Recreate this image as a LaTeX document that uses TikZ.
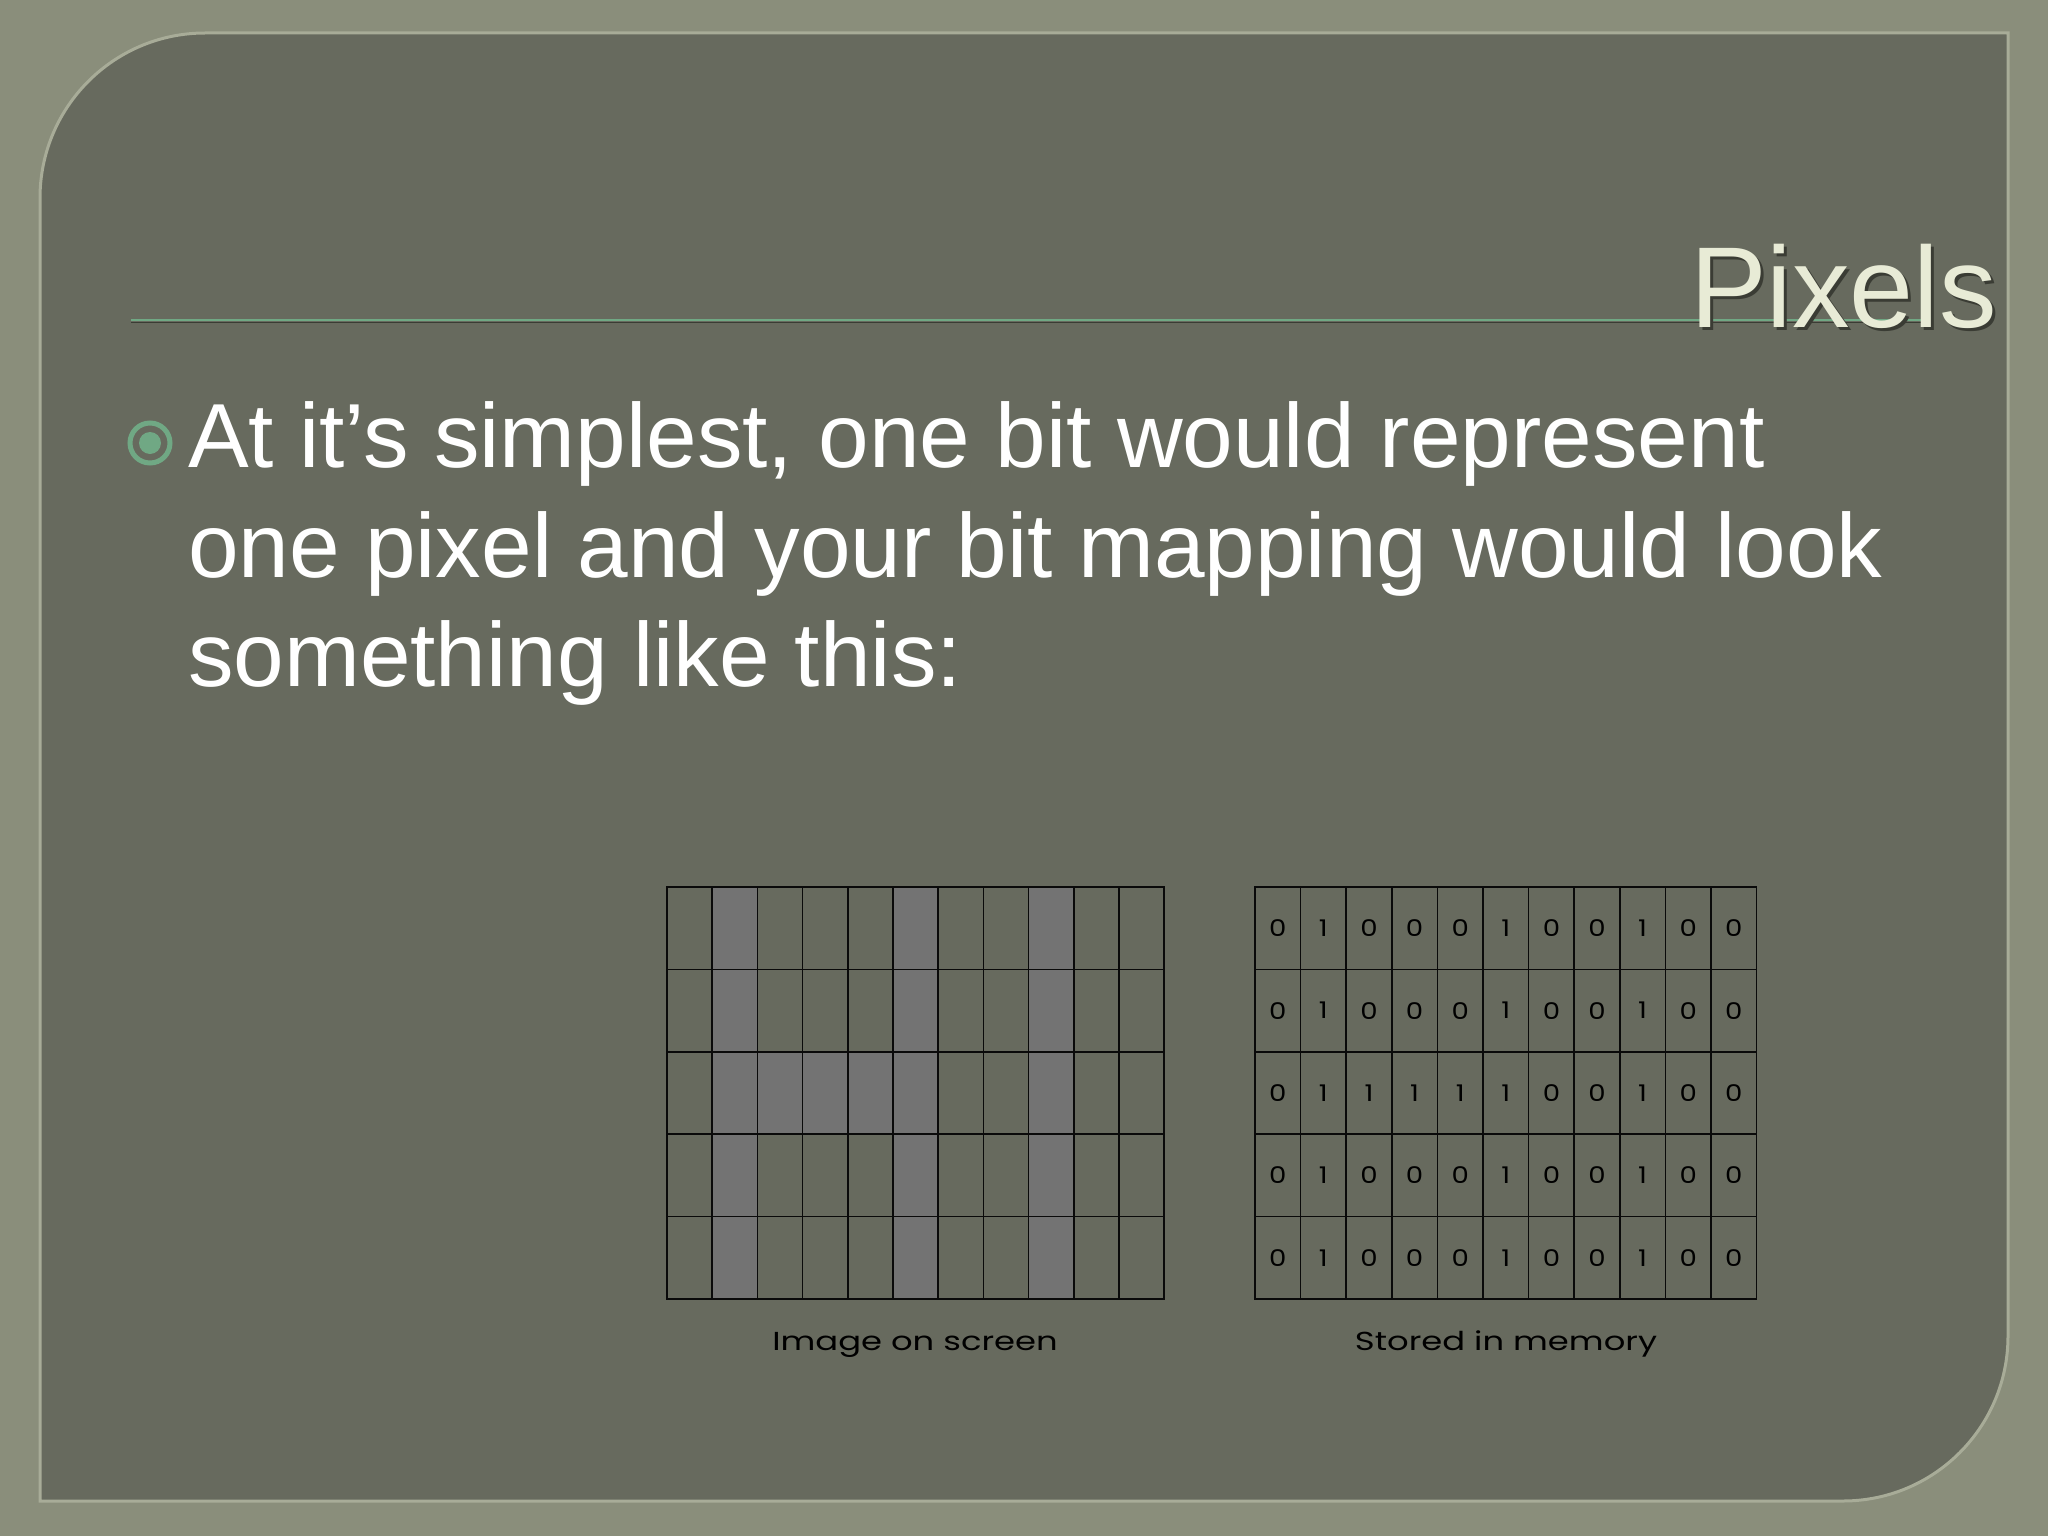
\documentclass[tikz,border=0pt]{standalone}
\usepackage{fontspec}
\usepackage{graphicx}
\setmainfont{Liberation Sans}
\newfontfamily\capfont{Poppins}
\definecolor{outerbg}{RGB}{138,142,123}
\definecolor{panelbg}{RGB}{103,106,94}
\definecolor{panelrim}{RGB}{168,172,152}
\definecolor{titlecol}{RGB}{232,235,214}
\definecolor{titleshadow}{RGB}{58,60,52}
\definecolor{accent}{RGB}{112,168,132}
\definecolor{pixon}{RGB}{115,115,115}
\definecolor{gridline}{RGB}{10,10,10}
\tikzset{
  pixcell/.style={draw=gridline, line width=1.6pt, inner sep=0pt, minimum height=82.4pt},
  leftcell/.style={pixcell, minimum width=45.2pt},
  memcell/.style={pixcell, minimum width=45.6pt, font=\capfont\fontsize{23}{23}\selectfont, text=black},
  bodytext/.style={anchor=base west, inner sep=0pt, text=white, font=\fontsize{91}{110}\selectfont},
  captext/.style={anchor=base, inner sep=0pt, text=black, font=\capfont\fontsize{26}{26}\selectfont},
}
\begin{document}
\begin{tikzpicture}[x=1pt,y=-1pt]
\useasboundingbox (0,0) rectangle (2048,1536);
% background
\fill[outerbg] (0,0) rectangle (2048,1536);
% panel
\path[fill=panelbg, draw=panelrim, line width=3pt]
  (40,1501) -- (40,800) [rounded corners=165pt] -- (40,33) -- (800,33) [sharp corners]
  -- (2008,33) -- (2008,800) [rounded corners=165pt] -- (2008,1501) -- (800,1501) [sharp corners] -- cycle;
% title rule
\coordinate (ruleL) at (131,320);
\coordinate (ruleR) at (1923,320);
\draw[titleshadow, line width=1.5pt] ([yshift=-2.5pt]ruleL) -- ([yshift=-2.5pt]ruleR);
\draw[accent, line width=2.5pt] (ruleL) -- (ruleR);
% title
\node[anchor=base east, inner sep=0pt, text=titleshadow, font=\fontsize{115}{115}\selectfont] (titleshadow) at (2000,330) {Pixels};
\node[anchor=base east, inner sep=0pt, text=titlecol, font=\fontsize{115}{115}\selectfont] (title) at (1997,327) {Pixels};
% bullet
\node[circle, draw=accent, line width=5pt, minimum size=40pt, inner sep=0pt] (bullet) at (150,443) {};
\fill[accent] (bullet.center) circle[radius=11pt];
% body text
\node[bodytext] (body1) at (188,467) {At it’s simplest, one bit would represent};
\node[bodytext] (body2) at (188,577) {one pixel and your bit mapping would look};
\node[bodytext] (body3) at (188,686) {something like this:};
% grids
\foreach \bits [count=\r from 0] in {{0,1,0,0,0,1,0,0,1,0,0},{0,1,0,0,0,1,0,0,1,0,0},{0,1,1,1,1,1,0,0,1,0,0},{0,1,0,0,0,1,0,0,1,0,0},{0,1,0,0,0,1,0,0,1,0,0}} {
  \foreach \b [count=\c from 0] in \bits {
    \ifnum\b=1 \def\cellfill{pixon}\else\def\cellfill{panelbg}\fi
    \node[leftcell, fill=\cellfill] (L-\r-\c) at ({667+45.2*(\c+0.5)},{887+82.4*(\r+0.5)}) {};
    \node[memcell] (M-\r-\c) at ({1255+45.6*(\c+0.5)},{887+82.4*(\r+0.5)}) {\scalebox{1.2}[1]{\b}};
  }
}
% captions
\node[captext] (capL) at (915,1350) {\scalebox{1.3}[1]{Image on screen}};
\node[captext] (capM) at (1506,1350) {\scalebox{1.3}[1]{Stored in memory}};
\end{tikzpicture}
\end{document}
